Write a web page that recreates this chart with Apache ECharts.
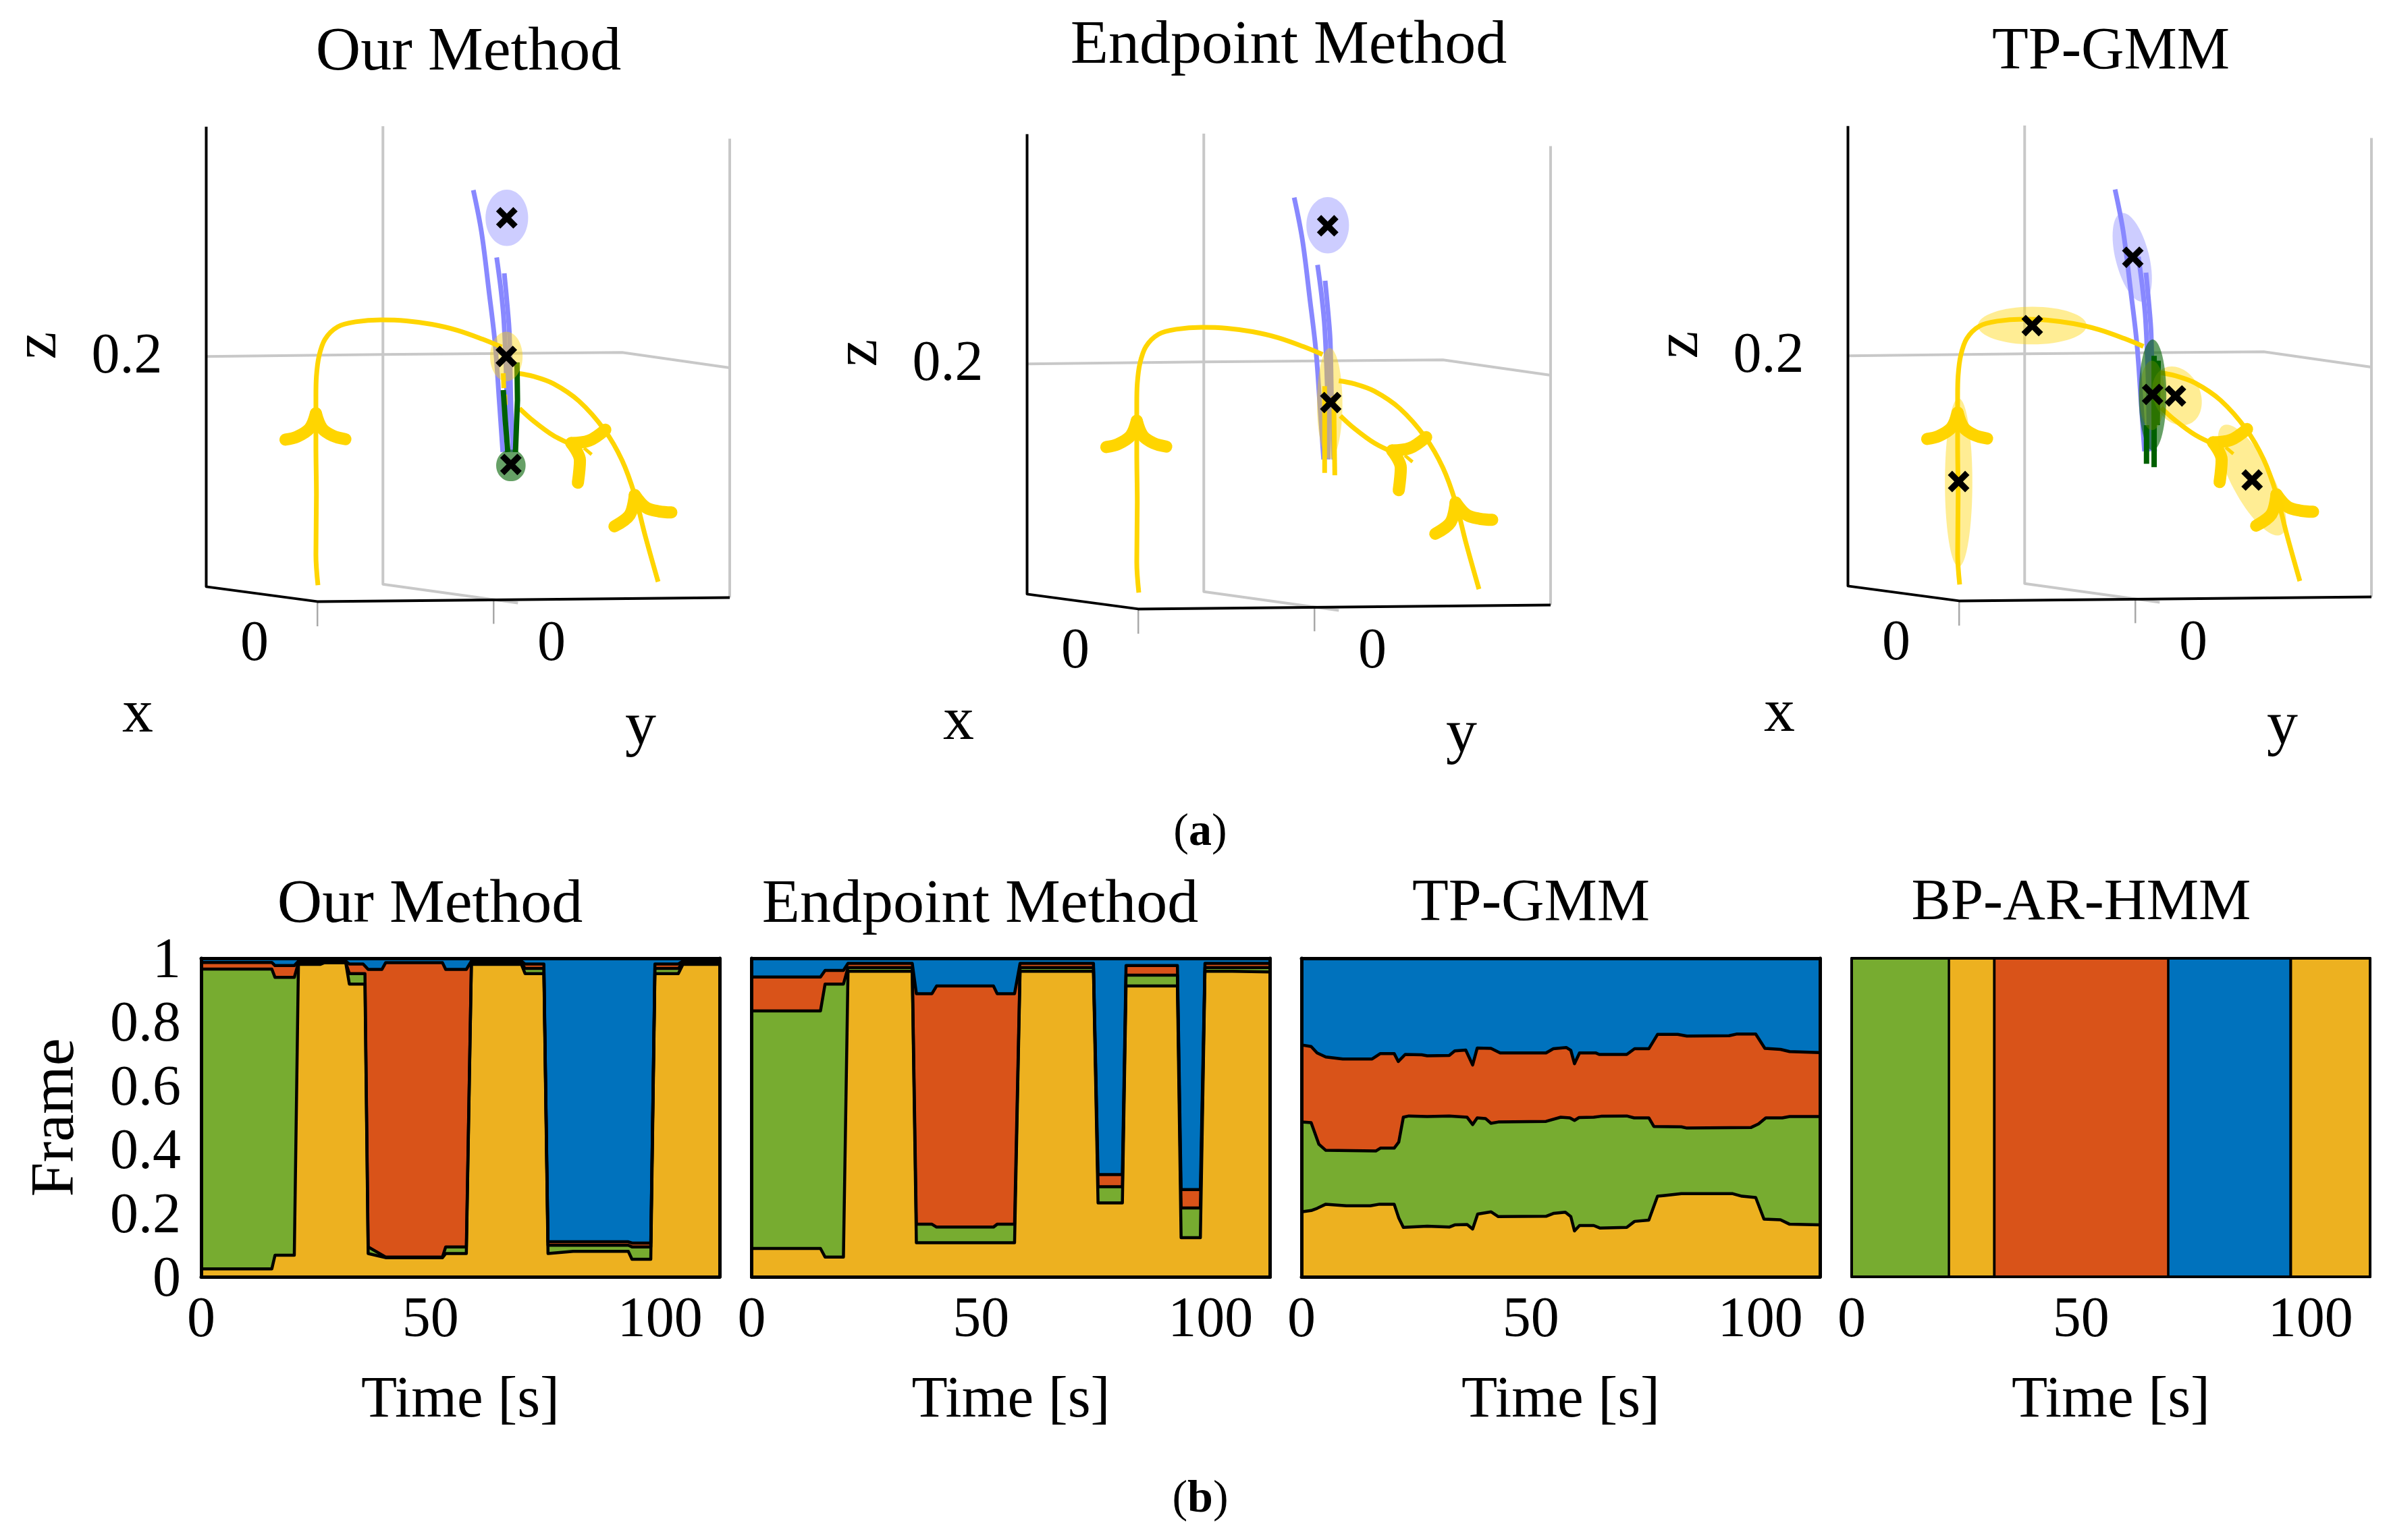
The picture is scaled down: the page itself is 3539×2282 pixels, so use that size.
<!DOCTYPE html>
<html><head><meta charset="utf-8">
<style>html,body{margin:0;padding:0;background:#fff}#c{width:3539px;height:2282px}</style>
<script src="https://cdn.jsdelivr.net/npm/echarts@6/dist/echarts.min.js"></script>
</head><body><div id="c"></div>
<script>
// ---------- top row: projected 3-D view (shared projected scale) ----------
const boxGrey = [
  [[754,255],[754,1180],[1020,1218]],
  [[1437,280],[1437,1207]],
  [[406,720],[754,716],[1225,712],[1437,743]]
];
const boxTicks = [
  [[625,1215],[625,1265]],
  [[972,1210],[972,1260]]
];
const boxBlack = [[406,256],[406,1185],[625,1215],[1437,1207]];

const yellowA = [[626,1182],[622,1120],[623,1000],[622,900],[622,800],[623,760],[628,720],[640,685],[665,660],[700,650],[750,646],[800,648],[850,655],[900,667],[950,685],[988,701]];
const yellowB = [[1296,1175],[1270,1080],[1250,1000],[1225,930],[1190,868],[1140,810],[1090,775],[1050,760],[1020,754]];
const yellowC = [[1023,825],[1050,850],[1090,880],[1130,900]];
const arrowWings = [
  [[622,835],[610,865],[585,882],[562,888]],
  [[622,835],[634,865],[655,880],[680,887]],
  [[1250,1000],[1240,1040],[1210,1063]],
  [[1250,1000],[1272,1025],[1298,1033],[1322,1035]],
  [[1125,895],[1160,890],[1192,868]],
  [[1125,895],[1142,930],[1138,975]]
];
const arrowBarb = [[1150,905],[1165,918]];

const blueD = [[932,384],[948,468],[963,590],[975,695],[983,809],[990,913]];
const blueE = [[978,520],[986,582],[992,645],[997,763],[999,913]];
const blueF = [[993,552],[999,618],[1003,672],[1006,809],[1010,913]];

const stubsOur = [[[991,754],[992,784]],[[994,797],[995,818]]];
const stubsEndpoint = [[[992,765],[992,940]],[[1010,785],[1012,945]]];
const greenOur = [[[991,788],[995,850],[1000,913]],[[1018,732],[1019,808],[1015,913]]];
const greenTp = [[[994,860],[994,938]],[[1009,720],[1009,945]],[[1017,730],[1015,860]]];

// ellipses: x, y, rx, ry, tilt in degrees
const blueEllOur = [[998,440,42,57,0]];
const yellowEllOur = [[997,720,32,50,0]];
const greenEllOur = [[1006,940,29,32,0]];
const crossOur = [[998,440],[997,720],[1006,938]];

const blueEllEnd = [[998,440,42,57,0]];
const yellowEllEnd = [[1002,800,25,112,0]];
const crossEnd = [[998,441],[1004,798]];

const blueEllTp = [[966,521,33,92,14]];
const yellowEllTp = [[769,659,107,38,0],[624,976,27,170,0],[1054,801,46,62,25],[1202,971,40,125,28],[1005,800,25,70,0]];
const greenEllTp = [[1006,799,27,112,0]];
const crossTp = [[967,521],[769,659],[624,974],[1006,798],[1051,801],[1202,971]];

// ---------- bottom row: cumulative class boundaries (time [s], frame) ----------
const ourYellow = [[0,.025],[15.4,.025],[16.1,.068],[20.3,.068],[21.2,.981],[26,.981],[27,.987],[31.5,.987],[32.3,.919],[35.7,.919],[36.4,.073],[40.2,.06],[52.6,.06],[53.3,.073],[57.8,.073],[58.9,.981],[69.8,.981],[70.6,.952],[74.7,.952],[75.6,.073],[81.1,.08],[93.1,.08],[93.9,.055],[98,.055],[98.9,.952],[104,.952],[105,.981],[113,.981]];
const ourGreen = [[0,.966],[15.4,.966],[16.1,.94],[20.3,.94],[21.2,.986],[31.5,.987],[32.3,.952],[35.7,.952],[36.4,.094],[40.2,.062],[52.6,.062],[53.3,.094],[57.8,.094],[58.9,.986],[69.8,.986],[70.6,.968],[74.7,.968],[75.6,.099],[93.1,.099],[93.9,.094],[98,.094],[98.9,.968],[104,.968],[105,.986],[113,.986]];
const ourOrange = [[0,.987],[15.4,.987],[16.1,.977],[20.3,.977],[21.2,.991],[31.5,.991],[32.3,.982],[35.3,.982],[36.4,.965],[39.4,.965],[40.2,.986],[52.6,.986],[53.3,.965],[57.8,.965],[58.9,.991],[69.8,.991],[70.6,.982],[74.7,.982],[75.6,.11],[93.1,.11],[93.9,.106],[98,.106],[98.9,.982],[104,.982],[105,.991],[113,.991]];

const endYellow = [[0,.089],[15,.089],[16,.062],[20,.062],[21,.959],[35,.959],[35.9,.107],[57.3,.107],[58.5,.959],[74.5,.959],[75.5,.232],[80.8,.232],[81.6,.913],[92.8,.913],[93.6,.123],[97.8,.123],[98.8,.959],[104.8,.959],[104.8,.957],[113,.957]];
const endGreen = [[0,.835],[15,.835],[16,.919],[20,.919],[21,.971],[35,.971],[35.9,.165],[39.3,.165],[40.3,.156],[52.7,.156],[53.5,.165],[57.3,.165],[58.5,.971],[74.5,.971],[75.5,.283],[80.8,.283],[81.6,.947],[92.8,.947],[93.6,.216],[97.8,.216],[98.8,.971],[113,.971]];
const endOrange = [[0,.941],[15,.941],[16,.962],[20,.962],[21,.984],[35,.984],[35.9,.889],[39.3,.889],[40.3,.913],[52.7,.913],[53.5,.889],[57.3,.889],[58.5,.984],[74.5,.984],[75.5,.321],[80.8,.321],[81.6,.977],[92.8,.977],[93.6,.274],[97.8,.274],[98.8,.984],[113,.984]];

const tpYellow = [[0,.204],[2.1,.208],[3.4,.215],[5.3,.228],[9.8,.223],[15,.223],[17,.228],[20.2,.228],[21.2,.185],[22.2,.155],[27.4,.159],[32.2,.156],[33.4,.163],[36.1,.164],[37.3,.15],[38.4,.197],[41.3,.204],[42.9,.189],[53.3,.19],[54.9,.199],[57.5,.203],[58.7,.189],[59.5,.144],[60.6,.161],[63.7,.161],[65.1,.153],[70.9,.155],[72.6,.174],[75.7,.178],[77.6,.253],[78.8,.255],[82.8,.261],[94,.261],[96,.253],[99,.249],[100.8,.181],[104.4,.179],[106.4,.165],[113,.163]];
const tpGreen = [[0,.486],[2.1,.484],[3.8,.416],[5.3,.397],[16.2,.395],[17.2,.404],[20.2,.404],[21.2,.423],[22.2,.501],[23.4,.505],[27.4,.503],[32.2,.505],[36.1,.501],[37.3,.478],[38.3,.499],[40.1,.497],[41.3,.482],[42.9,.486],[53.3,.488],[56.5,.501],[58.5,.499],[59.5,.491],[60.5,.5],[63.7,.501],[65.3,.504],[70.9,.505],[72.5,.499],[75.7,.499],[76.8,.472],[82.8,.471],[84,.467],[98,.469],[99.6,.48],[101.2,.499],[104.8,.499],[106.4,.503],[113,.503]];
const tpOrange = [[0,.728],[2.1,.723],[3.4,.703],[5.3,.69],[9,.684],[15.4,.684],[17.2,.701],[20.2,.701],[21.1,.676],[22.6,.698],[26.2,.697],[27.4,.694],[32.2,.695],[33.4,.709],[35.8,.712],[37.3,.665],[38.3,.718],[41.3,.717],[43.3,.703],[53.3,.703],[54.9,.716],[57.7,.72],[58.7,.711],[59.5,.669],[60.6,.703],[64.1,.703],[64.9,.698],[70.9,.698],[72.6,.716],[75.7,.716],[77.6,.761],[82,.761],[84,.756],[93.2,.757],[94.8,.762],[99,.762],[101,.717],[104.4,.714],[106.4,.707],[113,.704]];

const bpYellow = [[0,0],[21.2,0],[21.2,1],[31.1,1],[31.1,0],[95.7,0],[95.7,1],[113,1]];
const bpGreen = [[0,1],[31.1,1],[31.1,0],[95.7,0],[95.7,1],[113,1]];
const bpOrange = [[0,1],[69,1],[69,0],[95.7,0],[95.7,1],[113,1]];
const blueTop = [[0,1],[113,1]];

const xTicks = [0,50,100];
const frameTicks = [0,0.2,0.4,0.6,0.8,1];

// ---------- styling ----------
const SERIF = "'Liberation Serif'";
const C = {gold:'#ffd500',lav:'#8888ff',dark:'#006000',grey:'#c8c8c8',ay:'#EDB120',ag:'#77AC30',ao:'#D95319',ab:'#0072BD'};
const grid3d = [{left:305.5,top:187.8},{left:1521.5,top:198.8},{left:2737.5,top:186.8}].map(g=>({...g,width:775.5,height:741,show:false}));
const grid2d = [298,1113.5,1928,2743].map(l=>({left:l,top:1420,width:768,height:472,show:false}));
const grids = grid3d.concat(grid2d);
const xAxes=[], yAxes=[], series=[];
const TIMES_MAX = 113;

grid3d.forEach((g,i)=>{
  xAxes.push({type:'value',gridIndex:i,min:406,max:1437,show:false});
  yAxes.push({type:'value',gridIndex:i,min:256,max:1266,inverse:true,show:false});
});
grid2d.forEach((g,k)=>{
  const i=k+3, fw=k===3?4:5;
  xAxes.push({type:'value',gridIndex:i,min:0,max:TIMES_MAX,interval:50,z:10,
    axisLine:{show:true,onZero:false,lineStyle:{color:'#000',width:fw}},axisTick:{show:false},splitLine:{show:false},
    axisLabel:{show:true,color:'#000',fontFamily:SERIF,fontSize:84,margin:24,showMaxLabel:false,hideOverlap:false,
      formatter:v=>xTicks.includes(v)?String(v):''},
    name:'Time [s]',nameLocation:'middle',nameGap:141,nameTextStyle:{color:'#000',fontFamily:SERIF,fontSize:87}});
  yAxes.push({type:'value',gridIndex:i,min:0,max:1,interval:0.2,z:10,
    axisLine:{show:true,onZero:false,lineStyle:{color:'#000',width:fw}},axisTick:{show:false},splitLine:{show:false},
    axisLabel:{show:k===0,color:'#000',fontFamily:SERIF,fontSize:84,margin:30,verticalAlign:'top',padding:[-36,0,0,0],
      formatter:v=>String(frameTicks.find(t=>Math.abs(t-v)<1e-6))},
    name:k===0?'Frame':'',nameLocation:'middle',nameGap:168,nameTextStyle:{color:'#000',fontFamily:SERIF,fontSize:92}});
  // top and right edges of the frame
  xAxes.push({type:'value',gridIndex:i,min:0,max:TIMES_MAX,position:'top',z:10,
    axisLine:{show:true,onZero:false,lineStyle:{color:'#000',width:fw}},axisTick:{show:false},axisLabel:{show:false},splitLine:{show:false}});
  yAxes.push({type:'value',gridIndex:i,min:0,max:1,position:'right',z:10,
    axisLine:{show:true,onZero:false,lineStyle:{color:'#000',width:fw}},axisTick:{show:false},axisLabel:{show:false},splitLine:{show:false}});
});
const ax2d = k => 3+2*k;

function line3d(i,pts,color,width,smooth,z){
  series.push({type:'line',xAxisIndex:i,yAxisIndex:i,data:pts,symbol:'none',clip:false,smooth:smooth?0.35:false,z:z,silent:true,
    lineStyle:{color:color,width:width,cap:smooth===2?'round':'butt',join:'round'}});
}
function ellipses(i,arr,color,z){
  series.push({type:'custom',xAxisIndex:i,yAxisIndex:i,data:arr,clip:false,z:z,silent:true,
    renderItem:(p,api)=>{
      const c=api.coord([api.value(0),api.value(1)]);
      const s=api.size([api.value(2),api.value(3)]);
      return {type:'ellipse',x:c[0],y:c[1],rotation:api.value(4)*Math.PI/180,
        shape:{cx:0,cy:0,rx:s[0],ry:s[1]},style:{fill:color}};
    }});
}
const CROSS='path://M4 0 L10 6 L16 0 L20 4 L14 10 L20 16 L16 20 L10 14 L4 20 L0 16 L6 10 L0 4 Z';
function panel3d(i,o){
  boxGrey.forEach(p=>line3d(i,p,C.grey,4,false,2));
  boxTicks.forEach(p=>line3d(i,p,'#a8a8a8',2.5,false,2));
  line3d(i,boxBlack,'#000',4,false,3);
  [blueD,blueE,blueF].forEach(p=>line3d(i,p,C.lav,7,true,4));
  [yellowA,yellowB,yellowC].forEach(p=>line3d(i,p,C.gold,7,true,5));
  o.stubs.forEach(p=>line3d(i,p,C.gold,7,false,5));
  arrowWings.forEach(p=>line3d(i,p,C.gold,18,2,5));
  line3d(i,arrowBarb,C.gold,5,false,5);
  o.green.forEach(p=>line3d(i,p,C.dark,8,false,6));
  ellipses(i,o.blue,'rgba(136,136,255,0.42)',7);
  ellipses(i,o.yellow,'rgba(255,213,0,0.42)',7);
  ellipses(i,o.greenE,'rgba(0,96,0,0.6)',8);
  series.push({type:'scatter',xAxisIndex:i,yAxisIndex:i,data:o.cross,symbol:CROSS,symbolSize:32,clip:false,z:9,silent:true,itemStyle:{color:'#000',opacity:1}});
}
panel3d(0,{stubs:stubsOur,green:greenOur,blue:blueEllOur,yellow:yellowEllOur,greenE:greenEllOur,cross:crossOur});
panel3d(1,{stubs:stubsEndpoint,green:[],blue:blueEllEnd,yellow:yellowEllEnd,greenE:[],cross:crossEnd});
panel3d(2,{stubs:[],green:greenTp,blue:blueEllTp,yellow:yellowEllTp,greenE:greenEllTp,cross:crossTp});

function area(k,pts,fill,lw){
  series.push({type:'line',xAxisIndex:ax2d(k),yAxisIndex:ax2d(k),data:pts,symbol:'none',silent:true,z:3,
    areaStyle:{color:fill,opacity:1,origin:'start'},
    lineStyle:{color:'#000',width:lw,join:'round'}});
}
[[ourOrange,ourGreen,ourYellow],[endOrange,endGreen,endYellow],[tpOrange,tpGreen,tpYellow],[bpOrange,bpGreen,bpYellow]].forEach((b,k)=>{
  const lw=k===3?3.5:4.5;
  area(k,blueTop,C.ab,0);
  area(k,b[0],C.ao,lw);
  area(k,b[1],C.ag,lw);
  area(k,b[2],C.ay,lw);
});

// ---------- text ----------
const tt=(text,x,top,size)=>({text,left:x,top,textAlign:'center',textStyle:{color:'#000',fontFamily:SERIF,fontSize:size||92,fontWeight:'normal'},padding:0});
const capt=(l,x,top)=>({text:`{n|(}{b|${l}}{n|)}`,left:x,top,textAlign:'center',padding:0,
  textStyle:{fontWeight:'normal',rich:{n:{fontFamily:SERIF,fontSize:68,fontWeight:'normal',color:'#000'},b:{fontFamily:SERIF,fontSize:68,fontWeight:'bold',color:'#000'}}}});
const titles=[
  tt('Our Method',694,33),tt('Endpoint Method',1909,23),tt('TP-GMM',3127,34,88),
  tt('Our Method',637,1296),tt('Endpoint Method',1452,1296),tt('TP-GMM',2268,1296,88),tt('BP-AR-HMM',3083,1296,87),
  capt('a',1778,1200),capt('b',1778,2188)
];
const gtext=(t,x,y,size,rot)=>({type:'text',x,y,rotation:rot||0,silent:true,
  style:{text:t,fontFamily:SERIF,fontSize:size,fill:'#000',align:'center',verticalAlign:'middle',textAlign:'center',textVerticalAlign:'middle'}});
const panelText=[];
[[0,0],[1216,11],[2432,-1]].forEach(([dx,dy])=>{
  panelText.push(gtext('0.2',188+dx,530+dy,84));
  panelText.push(gtext('z',58+dx,512+dy,92,Math.PI/2));
  panelText.push(gtext('0',377+dx,956+dy,84));
  panelText.push(gtext('0',817+dx,956+dy,84));
  panelText.push(gtext('x',204+dx,1060+dy,92));
  panelText.push(gtext('y',949+dx,1079+dy,92));
});

const chart=echarts.init(document.getElementById('c'),null,{renderer:'canvas',width:3539,height:2282});
chart.setOption({animation:false,backgroundColor:'#fff',title:titles,grid:grids,xAxis:xAxes,yAxis:yAxes,series,graphic:panelText,tooltip:{show:false},legend:{show:false}});
</script></body></html>
